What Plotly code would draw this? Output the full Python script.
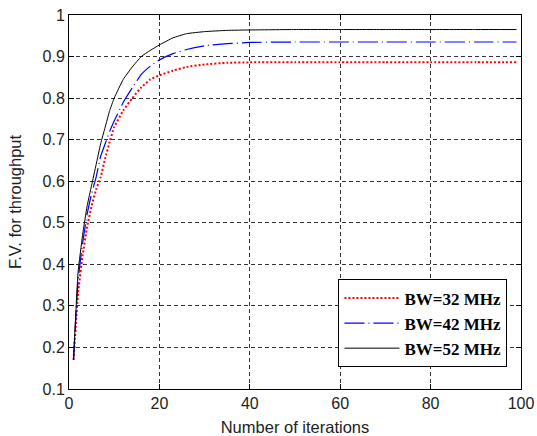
import plotly.graph_objects as go

iters = [1, 2, 3, 4, 5, 6, 7, 8, 9, 10, 12, 14, 16, 18, 20, 23, 26, 30, 35, 40, 50, 60, 70, 80, 90, 99]
bw32 = [0.17, 0.33, 0.42, 0.49, 0.54, 0.58, 0.61, 0.655, 0.695, 0.73, 0.77, 0.80, 0.826, 0.845, 0.855,
        0.866, 0.875, 0.881, 0.885, 0.886, 0.886, 0.886, 0.886, 0.886, 0.886, 0.886]
bw42 = [0.17, 0.36, 0.45, 0.52, 0.57, 0.61, 0.66, 0.69, 0.72, 0.745, 0.79, 0.825, 0.857, 0.877, 0.892,
        0.907, 0.917, 0.926, 0.931, 0.934, 0.935, 0.935, 0.935, 0.935, 0.935, 0.935]
bw52 = [0.17, 0.38, 0.47, 0.54, 0.59, 0.64, 0.69, 0.73, 0.77, 0.80, 0.845, 0.875, 0.90, 0.915, 0.928,
        0.945, 0.955, 0.960, 0.963, 0.964, 0.965, 0.965, 0.965, 0.965, 0.965, 0.965]

fig = go.Figure()
fig.add_trace(go.Scatter(x=iters, y=bw32, mode="lines", name="BW=32 MHz",
                         line=dict(color="#ff0000", width=2, dash="2px,2px", shape="spline", smoothing=0.4)))
fig.add_trace(go.Scatter(x=iters, y=bw42, mode="lines", name="BW=42 MHz",
                         line=dict(color="#0000ff", width=1.2, dash="20px,4px,1px,4px", shape="spline", smoothing=0.4)))
fig.add_trace(go.Scatter(x=iters, y=bw52, mode="lines", name="BW=52 MHz",
                         line=dict(color="#000000", width=1, shape="spline", smoothing=0.4)))

tick_font = dict(family="Liberation Sans, Arial", size=16, color="#222222")
title_font = dict(family="Liberation Sans, Arial", size=16.5, color="#222222")
axis_common = dict(
    showline=True, linecolor="black", linewidth=1, mirror="ticks",
    ticks="inside", ticklen=5, tickcolor="black",
    showgrid=True, gridcolor="#333333", griddash="4px,3px", gridwidth=1,
    zeroline=False, automargin=False,
    tickfont=tick_font,
)

fig.update_layout(
    width=537, height=436,
    margin=dict(l=69, r=16, t=15, b=47, autoexpand=False),
    paper_bgcolor="white", plot_bgcolor="white",
    xaxis=dict(range=[0, 100], tickvals=[0, 20, 40, 60, 80, 100],
               title=dict(text="Number of iterations", standoff=10, font=title_font),
               **axis_common),
    yaxis=dict(range=[0.1, 1], tickvals=[0.1, 0.2, 0.3, 0.4, 0.5, 0.6, 0.7, 0.8, 0.9, 1],
               ticktext=["0.1", "0.2", "0.3", "0.4", "0.5", "0.6", "0.7", "0.8", "0.9", "1"],
               title=dict(text="F.V. for throughput", standoff=16, font=title_font),
               **axis_common),
    legend=dict(x=0.97, y=0.293, xanchor="right", yanchor="top",
                bgcolor="white", bordercolor="black", borderwidth=1,
                font=dict(family="Liberation Serif, Times New Roman", size=17, color="black",
                          weight="bold"),
                tracegroupgap=2, itemwidth=55),
    showlegend=True,
)

fig.write_html("out.html")
